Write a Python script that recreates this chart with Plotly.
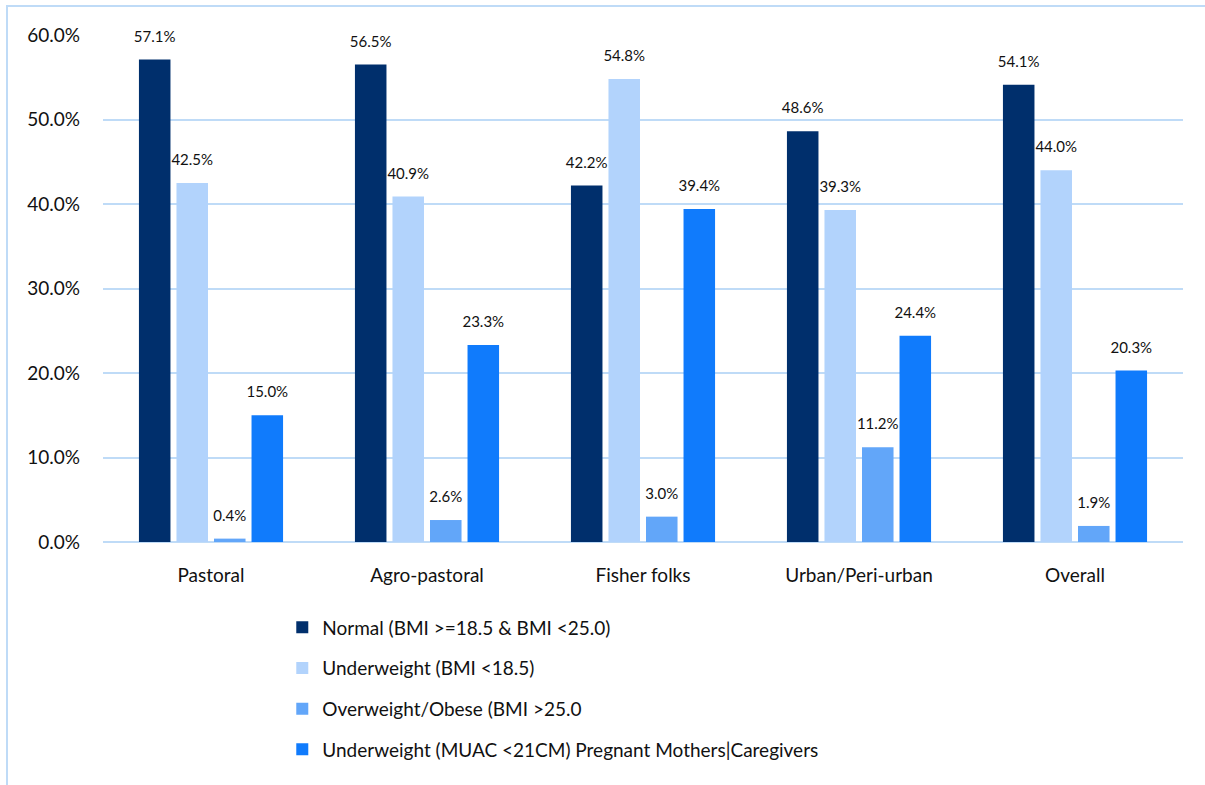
import plotly.graph_objects as go

categories = ["Pastoral", "Agro-pastoral", "Fisher folks", "Urban/Peri-urban", "Overall"]

normal = [57.1, 56.5, 42.2, 48.6, 54.1]
underweight_bmi = [42.5, 40.9, 54.8, 39.3, 44.0]
overweight = [0.4, 2.6, 3.0, 11.2, 1.9]
underweight_muac = [15.0, 23.3, 39.4, 24.4, 20.3]

series_names = [
    "Normal (BMI >=18.5 & BMI <25.0)",
    "Underweight (BMI <18.5)",
    "Overweight/Obese (BMI >25.0",
    "Underweight (MUAC <21CM) Pregnant Mothers|Caregivers",
]
series_values = [normal, underweight_bmi, overweight, underweight_muac]
series_colors = ["#002F6C", "#B2D3FC", "#62A6F9", "#107BFC"]

FONT = "Lato, 'Open Sans', sans-serif"
GRID = "#BFDBF7"

fig = go.Figure()
for i, (name, vals, col) in enumerate(zip(series_names, series_values, series_colors)):
    fig.add_trace(go.Bar(
        x=categories,
        y=vals,
        name=name,
        marker=dict(color=col, line=dict(width=0)),
        offsetgroup=str(i),
        legendgroup=f"g{i}",
    ))

# value labels, grouped the same way as the bars; an invisible marker
# lifts each label a little above its bar
for i, vals in enumerate(series_values):
    fig.add_trace(go.Scatter(
        x=categories,
        y=vals,
        mode="markers+text",
        text=[f"{v:.1f}%" for v in vals],
        textposition="top center",
        textfont=dict(size=15, color="#111111", family=FONT),
        offsetgroup=str(i),
        marker=dict(size=21, color="rgba(0,0,0,0)", line=dict(width=0)),
        showlegend=False,
        hoverinfo="skip",
        cliponaxis=False,
    ))

fig.update_layout(
    width=1205,
    height=785,
    barmode="group",
    scattermode="group",
    bargap=0.305,
    bargroupgap=0.16,
    scattergap=0.305,
    plot_bgcolor="white",
    paper_bgcolor="white",
    margin=dict(l=103, r=22, t=35, b=243, autoexpand=False),
    font=dict(family=FONT, color="#111111"),
    xaxis=dict(
        tickfont=dict(size=19, family=FONT),
        showgrid=False,
        showline=False,
        ticks="",
        ticklabelstandoff=20,
        automargin=False,
    ),
    yaxis=dict(
        range=[0, 60],
        dtick=10,
        tickformat=".1f",
        ticksuffix="%",
        tickfont=dict(size=19, family=FONT),
        showgrid=True,
        gridcolor=GRID,
        gridwidth=2,
        zeroline=True,
        zerolinecolor=GRID,
        zerolinewidth=2,
        ticks="",
        ticklabelstandoff=22,
        automargin=False,
    ),
    legend=dict(
        orientation="v",
        x=0.166,
        xanchor="left",
        y=-0.131,
        yanchor="top",
        font=dict(size=19, family=FONT, color="#111111"),
        traceorder="grouped",
        tracegroupgap=13,
        itemwidth=30,
        bgcolor="rgba(0,0,0,0)",
    ),
    shapes=[
        dict(
            type="rect",
            xref="paper", yref="paper",
            x0=(7 - 103) / 1080, x1=1.05,
            y0=-0.6, y1=1 + (35 - 6) / 507,
            line=dict(color=GRID, width=2),
            fillcolor="rgba(0,0,0,0)",
            layer="below",
        )
    ],
)

fig.write_html("out.html")
